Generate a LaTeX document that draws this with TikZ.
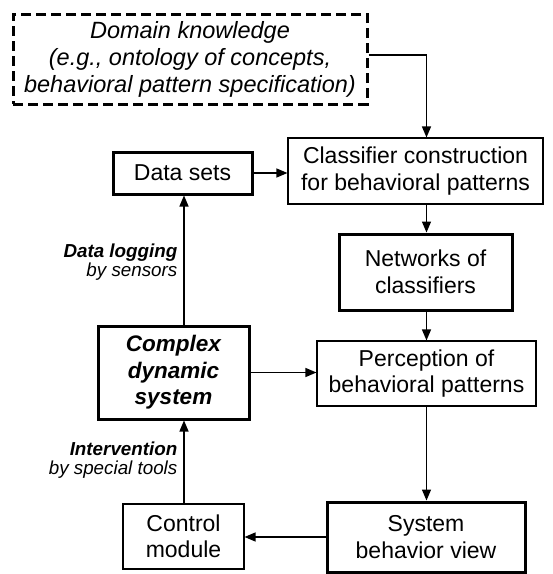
\documentclass[tikz,border=0pt]{standalone}
\usepackage{fontspec}
\setmainfont{Liberation Sans}
\usetikzlibrary{arrows.meta}
\begin{document}
\begin{tikzpicture}[x=1pt,y=-1pt,
  box/.style={draw, rectangle, inner sep=0pt, align=center,
    font=\fontsize{23}{26.5}\selectfont},
  thinbox/.style={box, line width=1.1pt},
  thickbox/.style={box, line width=3pt},
  dashbox/.style={box, line width=3pt, dash pattern=on 10pt off 5pt,
    font=\fontsize{23.5}{27}\selectfont\itshape},
  flow/.style={line width=1.3pt, -{Triangle[length=11pt,width=9pt]}},
  lbl/.style={anchor=east, inner xsep=6pt, inner ysep=0pt, align=right,
    font=\fontsize{18.8}{19.5}\selectfont\itshape}
]
\useasboundingbox (0,0) rectangle (553,574);

% boxes
\node[dashbox, minimum width=354pt, minimum height=90pt] (dom) at (190,59)
  {Domain knowledge\\(e.g., ontology of concepts,\\behavioral pattern specification)};
\node[thinbox, minimum width=255pt, minimum height=66pt] (cls) at (415.5,171)
  {Classifier construction\\for behavioral patterns};
\node[thickbox, minimum width=139pt, minimum height=42pt] (data) at (182.5,173)
  {Data sets};
\node[thickbox, minimum width=173pt, minimum height=76pt] (net) at (425.5,272)
  {Networks of\\classifiers};
\node[thickbox, minimum width=151pt, minimum height=93pt,
  font=\fontsize{22.5}{26.5}\selectfont\bfseries\itshape] (cds) at (173.5,372.5)
  {Complex\\dynamic\\system};
\node[thinbox, minimum width=219pt, minimum height=65pt] (per) at (426.5,373.5)
  {Perception of\\behavioral patterns};
\node[thickbox, minimum width=198pt, minimum height=70pt] (sys) at (426,537)
  {System\\behavior view};
\node[thinbox, minimum width=121pt, minimum height=65pt] (ctl) at (183.5,536.5)
  {Control\\module};

% column guides for the vertical connectors
\coordinate (col) at (426.5,0);
\coordinate (lcol) at (184,0);

% connectors
\draw[flow] ([yshift=4pt]dom.east) -| (col |- cls.north);
\draw[flow] (data.east) -- (data.east -| cls.west);
\draw[flow] (col |- cls.south) -- (col |- net.north);
\draw[flow] (col |- net.south) -- (col |- per.north);
\draw[flow] (cds.east) -- (cds.east -| per.west);
\draw[flow] (col |- per.south) -- (col |- sys.north);
\draw[flow] (sys.west) -- (sys.west -| ctl.east);
\draw[flow] (lcol |- ctl.north) -- node[lbl, pos=0.52]
  {\textbf{Intervention}\\by special tools} (lcol |- cds.south);
\draw[flow] (lcol |- cds.north) -- node[lbl, pos=0.485]
  {\textbf{Data logging}\\by sensors} (lcol |- data.south);
\end{tikzpicture}
\end{document}
